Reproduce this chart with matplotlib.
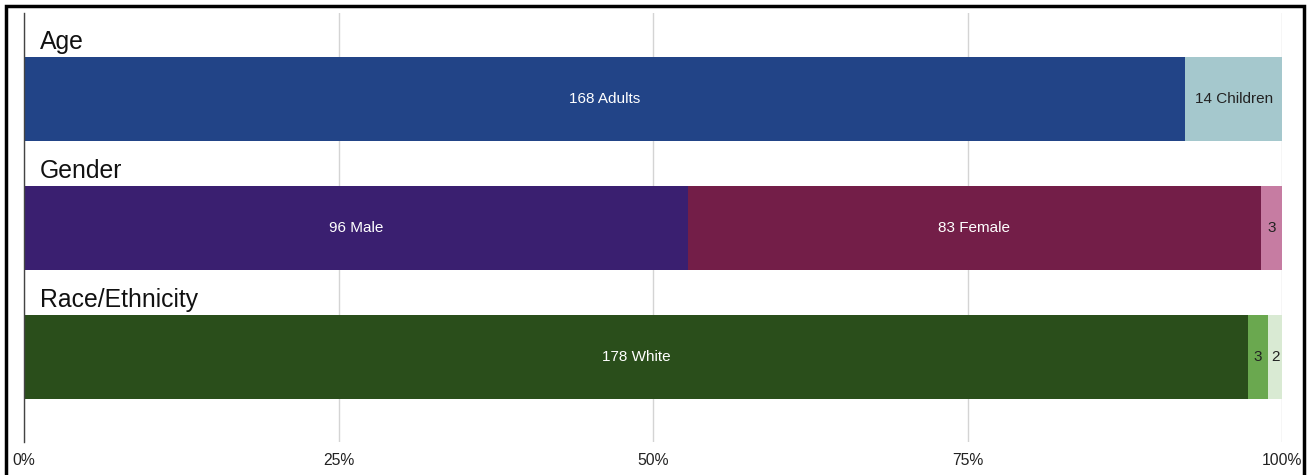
import matplotlib.pyplot as plt
from matplotlib.patches import Rectangle

plt.rcParams['font.family'] = ['Liberation Sans', 'DejaVu Sans']

groups = ['Age', 'Gender', 'Race/Ethnicity']
counts = [[168, 14], [96, 83, 3], [178, 3, 2]]
labels = [['168 Adults', '14 Children'], ['96 Male', '83 Female', '3'], ['178 White', '3', '2']]
colors = [['#224487', '#a5c8cd'],
          ['#3a1f70', '#731e48', '#c67ca2'],
          ['#2a4e1b', '#6aa84f', '#d9ead3']]
text_colors = [['white', '#222222'], ['white', 'white', '#222222'], ['white', '#222222', '#222222']]
ticks = [0, 0.25, 0.5, 0.75, 1.0]
tick_labels = ['0%', '25%', '50%', '75%', '100%']

fig = plt.figure(figsize=(13.08, 4.75), dpi=100)
ax = fig.add_axes([24 / 1308, 33 / 475, 1258 / 1308, 429 / 475])

bar_h = 0.65
for i, grp in enumerate(groups):
    total = sum(counts[i])
    left = 0
    for v, lab, c, tc in zip(counts[i], labels[i], colors[i], text_colors[i]):
        w = v / total
        ax.barh(i, w, left=left, height=bar_h, color=c, zorder=2)
        ax.text(left + w / 2, i, lab, ha='center', va='center', color=tc, fontsize=11, zorder=3)
        left += w
    ax.annotate(grp, xy=(0, i - bar_h / 2), xytext=(11.5, 2.5), textcoords='offset points',
                ha='left', va='bottom', fontsize=17.8, color='#111111')

ax.set_xlim(0, 1)
ax.set_ylim(2.66, -0.67)
ax.set_xticks(ticks)
ax.set_xticklabels(tick_labels, fontsize=11.3, color='#222222')
ax.set_yticks([])
ax.tick_params(axis='x', length=0, pad=8)
ax.grid(axis='x', color='#d4d4d4', linewidth=1, zorder=0)
for s in ['top', 'right', 'bottom']:
    ax.spines[s].set_visible(False)
ax.spines['left'].set_color('#444444')
ax.spines['left'].set_linewidth(1)
ax.spines['left'].set_zorder(4)

fig.patches.append(Rectangle((6 / 1308, -0.02), 1298 / 1308, 1.02 - 6 / 475,
                             transform=fig.transFigure, fill=False,
                             edgecolor='black', linewidth=2.5))

fig.savefig('out.png', dpi=100)
